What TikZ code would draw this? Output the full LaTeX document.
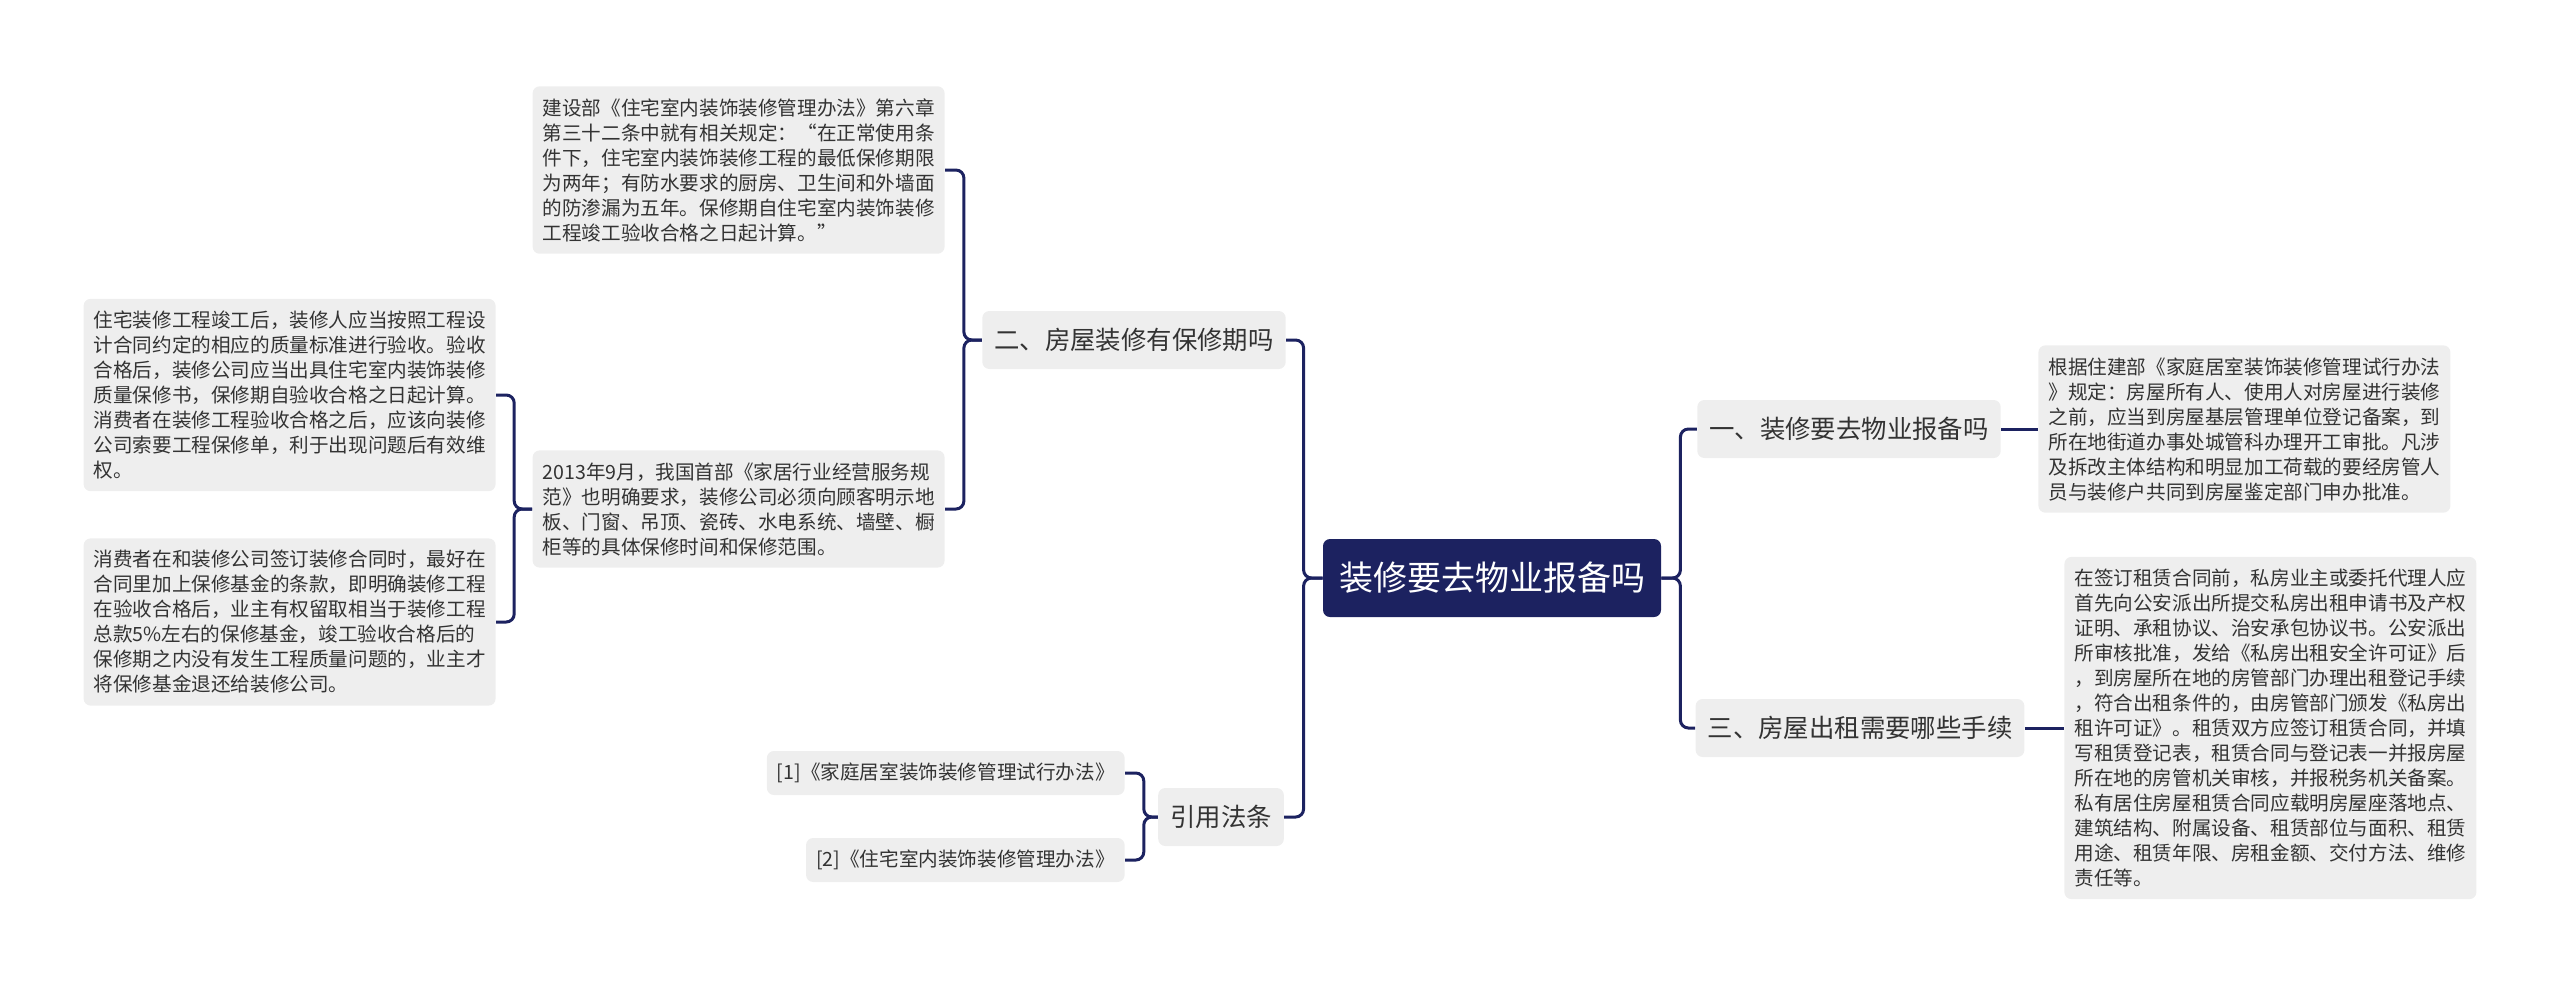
\documentclass[tikz,border=0pt]{standalone}
\usepackage{fontspec}
\setmainfont{Noto Sans CJK SC}
\definecolor{mapnavy}{HTML}{1C2260}
\definecolor{boxgray}{HTML}{EEEEEE}
\definecolor{textgray}{HTML}{333333}
\begin{document}
\begin{tikzpicture}[
        x=0.5pt, y=-0.5pt,
        root_node/.style={rectangle, rounded corners=3.5pt, fill=mapnavy, text=white, inner xsep=8pt, minimum height=39pt, font=\fontsize{17}{20}\selectfont},
        topic_node/.style={rectangle, rounded corners=3.5pt, fill=boxgray, text=textgray, inner xsep=6pt, minimum height=29pt, font=\fontsize{12.7}{15}\selectfont},
        leaf_node/.style={rectangle, rounded corners=3.5pt, fill=boxgray, text=textgray, align=left, inner xsep=5pt, inner ysep=6pt, font=\fontsize{9.8}{12.5}\selectfont},
        ref_node/.style={leaf_node, inner ysep=0pt, minimum height=22pt},
        link_line/.style={draw=mapnavy, line width=1.5pt, rounded corners=4pt}
    ]
        \useasboundingbox (0,0) rectangle (2560,987);
        % Kořen
        \node[root_node] (root) at (1492,578) {装修要去物业报备吗};
        % Levá větev
        \node[topic_node] (warranty) at (1134,340) {二、房屋装修有保修期吗};
        \node[topic_node] (laws) at (1221,817) {引用法条};
        \node[leaf_node, anchor=east] (rule) at (945,170) {建设部《住宅室内装饰装修管理办法》第六章\\第三十二条中就有相关规定：“在正常使用条\\件下，住宅室内装饰装修工程的最低保修期限\\为两年；有防水要求的厨房、卫生间和外墙面\\的防渗漏为五年。保修期自住宅室内装饰装修\\工程竣工验收合格之日起计算。”};
        \node[leaf_node, anchor=east] (norm) at (945,509) {2013年9月，我国首部《家居行业经营服务规\\范》也明确要求，装修公司必须向顾客明示地\\板、门窗、吊顶、瓷砖、水电系统、墙壁、橱\\柜等的具体保修时间和保修范围。};
        \node[leaf_node, anchor=east] (accept) at (496,395) {住宅装修工程竣工后，装修人应当按照工程设\\计合同约定的相应的质量标准进行验收。验收\\合格后，装修公司应当出具住宅室内装饰装修\\质量保修书，保修期自验收合格之日起计算。\\消费者在装修工程验收合格之后，应该向装修\\公司索要工程保修单，利于出现问题后有效维\\权。};
        \node[leaf_node, anchor=east] (fund) at (496,622) {消费者在和装修公司签订装修合同时，最好在\\合同里加上保修基金的条款，即明确装修工程\\在验收合格后，业主有权留取相当于装修工程\\总款5\%左右的保修基金，竣工验收合格后的\\保修期之内没有发生工程质量问题的，业主才\\将保修基金退还给装修公司。};
        \node[ref_node, anchor=east] (ref_a) at (1125,773) {[1]《家庭居室装饰装修管理试行办法》};
        \node[ref_node, anchor=east] (ref_b) at (1125,860) {[2]《住宅室内装饰装修管理办法》};
        % Pravá větev
        \node[topic_node] (report) at (1849,429) {一、装修要去物业报备吗};
        \node[topic_node] (rent) at (1860,728) {三、房屋出租需要哪些手续};
        \node[leaf_node, anchor=west] (report_text) at (2038,429) {根据住建部《家庭居室装饰装修管理试行办法\\》规定：房屋所有人、使用人对房屋进行装修\\之前，应当到房屋基层管理单位登记备案，到\\所在地街道办事处城管科办理开工审批。凡涉\\及拆改主体结构和明显加工荷载的要经房管人\\员与装修户共同到房屋鉴定部门申办批准。};
        \node[leaf_node, anchor=west] (rent_text) at (2064,728) {在签订租赁合同前，私房业主或委托代理人应\\首先向公安派出所提交私房出租申请书及产权\\证明、承租协议、治安承包协议书。公安派出\\所审核批准，发给《私房出租安全许可证》后\\，到房屋所在地的房管部门办理出租登记手续\\，符合出租条件的，由房管部门颁发《私房出\\租许可证》。租赁双方应签订租赁合同，并填\\写租赁登记表，租赁合同与登记表一并报房屋\\所在地的房管机关审核，并报税务机关备案。\\私有居住房屋租赁合同应载明房屋座落地点、\\建筑结构、附属设备、租赁部位与面积、租赁\\用途、租赁年限、房租金额、交付方法、维修\\责任等。};
        % Spojnice
        \foreach \child in {warranty, laws}
            \draw[link_line] (root.west) -- ++(-19,0) |- (\child.east);
        \foreach \child in {report, rent}
            \draw[link_line] (root.east) -- ++(19,0) |- (\child.west);
        \foreach \child in {rule, norm}
            \draw[link_line] (warranty.west) -- ++(-18,0) |- (\child.east);
        \foreach \child in {accept, fund}
            \draw[link_line] (norm.west) -- ++(-18,0) |- (\child.east);
        \foreach \child in {ref_a, ref_b}
            \draw[link_line] (laws.west) -- ++(-14,0) |- (\child.east);
        \draw[link_line] (report.east) -- (report_text.west);
        \draw[link_line] (rent.east) -- (rent_text.west);
    \end{tikzpicture}
\end{document}
